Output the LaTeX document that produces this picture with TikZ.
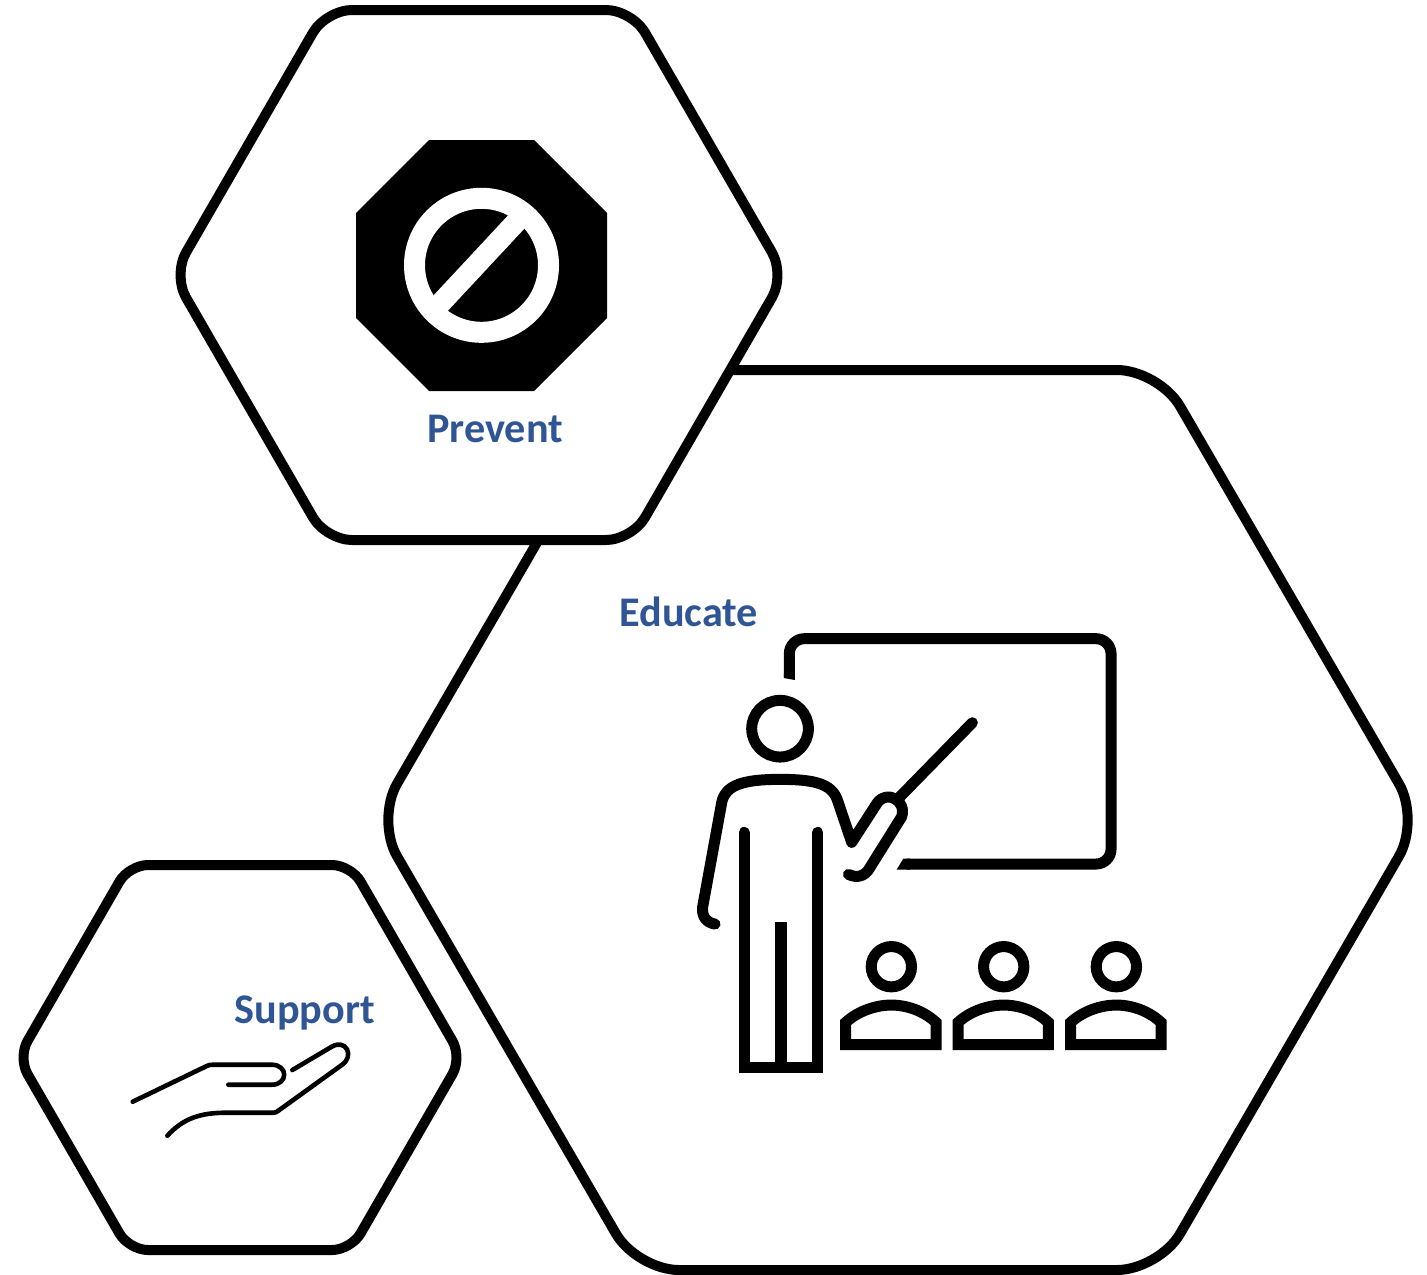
\documentclass[tikz,border=0pt]{standalone}
\usepackage{fontspec}
\setmainfont{Carlito}
\definecolor{labelblue}{HTML}{2F5597}
\tikzset{
  hexline/.style={draw=black,fill=white,line width=5pt,line join=round},
  iconline/.style={draw=black,line width=5.5pt,line cap=round,line join=round},
  iconmiter/.style={draw=black,line width=5.5pt,line cap=butt,line join=miter},
  handline/.style={draw=black,line width=2.3pt,line cap=round,line join=round},
  hexlabel/.style={text=labelblue,font=\fontsize{21.1pt}{25pt}\selectfont\bfseries,anchor=base west,inner sep=0pt},
}
\newcommand{\listener}[1]{%
  \begin{scope}[xshift=#1*0.16667pt]
    \draw[iconmiter] (634,1040) circle (60.5);
    \draw[iconmiter] (497,1274) -- (497,1207) .. controls (535,1172) and (590,1155) .. (633,1155)
       .. controls (680,1155) and (730,1172) .. (768,1207) -- (768,1274) -- cycle;
  \end{scope}}
\begin{document}
\begin{tikzpicture}[x=0.5pt,y=-0.5pt]
\useasboundingbox (0,0) rectangle (1427,1274);
\fill[white] (0,0) rectangle (1427,1274);
% hexagons
\draw[hexline,rounded corners=21pt] (898,370) -- (1159,370) -- (1420,820) -- (1159,1270) -- (637,1270) -- (376,820) -- (637,370) -- cycle;
\draw[hexline,rounded corners=13pt] (479,10) -- (632,10) -- (785,275) -- (632,540) -- (326,540) -- (173,275) -- (326,10) -- cycle;
\draw[hexline,rounded corners=9.5pt] (240,865) -- (351,865) -- (462,1057.5) -- (351,1250) -- (129,1250) -- (18,1057.5) -- (129,865) -- cycle;
% stop sign
\fill[black] (429,140) -- (534,140) -- (607,213) -- (607,318) -- (534,391) -- (429,391) -- (356,318) -- (356,213) -- cycle;
\draw[white,line width=10.5pt] (481.5,265.3) circle (67);
\draw[white,line width=10.5pt] (438,306) -- (519,219);
% labels
\node[hexlabel] (prevent) at (427,442) {Prevent};
\node[hexlabel] (educate) at (619,626.5) {Educate};
\node[hexlabel] (support) at (234,1023) {Support};
% hand (zoom coordinates)
\begin{scope}[x=0.16667pt,y=-0.16667pt,shift={(330,2940)}]
  \draw[handline] (68,365) -- (290,258) .. controls (295,255) and (300,254) .. (310,254) -- (485,254)
     .. controls (535,254) and (535,314) .. (485,314) -- (355,314);
  \draw[handline] (172,467) .. controls (220,415) and (270,398) .. (350,398) -- (490,398)
     .. controls (497,398) and (500,396) .. (505,392) -- (695,255)
     .. controls (735,228) and (708,175) .. (665,200) -- (547,270);
\end{scope}
% teacher (zoom coordinates)
\begin{scope}[x=0.16667pt,y=-0.16667pt,shift={(2040,1860)}]
  % board
  \draw[iconmiter,rounded corners=7.5pt] (328,172) -- (328,56) -- (1293,56) -- (1293,732) -- (680,732);
  \fill[black] (311.5,174) -- (344.5,180) -- (344.5,160) -- (311.5,160) -- cycle;
  \fill[black] (670,715.5) -- (650,748.5) -- (690,748.5) -- (690,715.5) -- cycle;
  % head
  \draw[iconmiter] (300,326) circle (85);
  % body and arms
  \draw[iconline] (105,912) .. controls (80,908) and (64,890) .. (68,860) -- (125,548)
     .. controls (135,495) and (190,478) .. (300,478)
     .. controls (400,478) and (455,490) .. (472,540) -- (515,667) -- (592,548)
     .. controls (620,510) and (680,540) .. (665,590) -- (570,742)
     .. controls (555,770) and (530,775) .. (505,763);
  % pointer
  \draw[iconline] (660,530) -- (877,308);
  % legs
  \draw[iconline,line join=miter] (192,637) -- (192,1342) -- (413,1342) -- (413,637);
  \fill[black] (285,905) rectangle (320,1335);
  % audience
  \listener{0}
  \listener{337}
  \listener{675}
\end{scope}
\end{tikzpicture}
\end{document}
